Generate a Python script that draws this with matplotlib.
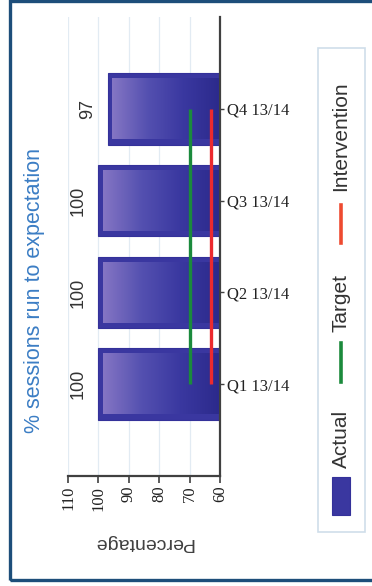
import numpy as np
import matplotlib.pyplot as plt
from matplotlib.colors import LinearSegmentedColormap
from matplotlib.patches import Rectangle
from matplotlib.lines import Line2D

quarters = ['Q1 13/14', 'Q2 13/14', 'Q3 13/14', 'Q4 13/14']
actual = [100, 100, 100, 97]
target = [70, 70, 70, 70]
intervention = [63, 63, 63, 63]
value_ticks = [60, 70, 80, 90, 100, 110]
base = 60

W, H = 372, 586
fig = plt.figure(figsize=(W / 100, H / 100), dpi=100)
fig.patch.set_facecolor('white')

# plot area (pixel coords -> figure fractions)
ax = fig.add_axes([68 / W, 1 - 476 / H, (220 - 68) / W, (476 - 17) / H])
pos = np.arange(len(quarters))

bars = ax.barh(pos, [a - base for a in actual], left=base, height=0.78,
               color='#3a37a0', edgecolor='#34319a', linewidth=0.8, zorder=2)

# gradient inside each bar: light at the tip, dark towards the axis
cmap = LinearSegmentedColormap.from_list('bar', ['#8576c4', '#5450b0', '#3a38a0', '#2c2a8c'])
grad = np.linspace(0, 1, 256).reshape(1, -1)
inset_x, inset_y = 1.6, 0.06
for b in bars:
    x0, y0, w, h = b.get_x(), b.get_y(), b.get_width(), b.get_height()
    ax.imshow(grad, cmap=cmap, aspect='auto', zorder=3, interpolation='bilinear',
              extent=(x0 + w - inset_x, x0 + 0.3, y0 + inset_y, y0 + h - inset_y))

ax.plot(target, pos, color='#1b8a3c', lw=2.4, zorder=4, solid_capstyle='butt')
ax.plot(intervention, pos, color='#ec2a2e', lw=2.4, zorder=4, solid_capstyle='butt')

for p, v in zip(pos, actual):
    ax.annotate(str(v), xy=(v, p), xytext=(-20, 0), textcoords='offset pixels',
                rotation=90, ha='center', va='center', fontsize=13,
                family='Liberation Sans', color='#333333')

ax.set_xlim(110, 60)
ax.set_ylim(-1, 4)

ax.set_xticks(value_ticks)
ax.set_xticklabels([str(t) for t in value_ticks], rotation=90,
                   family='Liberation Serif', fontsize=12, color='#222222')
ax.set_yticks(pos)
ax.set_yticklabels(quarters, family='Liberation Serif', fontsize=12, color='#222222')
ax.yaxis.tick_right()
ax.tick_params(axis='x', length=5, width=1.2, color='#404040', pad=2)
ax.tick_params(axis='y', length=3, width=1.0, color='#404040', pad=2)

ax.xaxis.grid(True, color='#e2ebf3', lw=0.9)
ax.set_axisbelow(True)
for s in ['top', 'left']:
    ax.spines[s].set_visible(False)
for s in ['right', 'bottom']:
    ax.spines[s].set_color('#404040')
    ax.spines[s].set_linewidth(1.6)

fig.text(143 / W, 1 - 542 / H, 'Percentage', rotation=180, ha='center', va='center',
         fontsize=14, family='Liberation Sans', color='#404040')
fig.text(35 / W, 1 - 291 / H, '% sessions run to expectation', rotation=90,
         ha='center', va='center', fontsize=15.5, family='Liberation Sans', color='#3b7dc4')

# legend, drawn sideways
fig.add_artist(Rectangle((318 / W, 1 - 532 / H), 47 / W, (532 - 48) / H,
                         transform=fig.transFigure, fill=False,
                         edgecolor='#cfdeea', lw=1.2))
fig.add_artist(Rectangle((332 / W, 1 - 515 / H), 18 / W, 38 / H,
                         transform=fig.transFigure, facecolor='#3a37a0',
                         edgecolor='#34319a', lw=0.8))
fig.add_artist(Line2D([341 / W, 341 / W], [1 - 382 / H, 1 - 343 / H],
                      transform=fig.transFigure, color='#1b8a3c', lw=2.6))
fig.add_artist(Line2D([341 / W, 341 / W], [1 - 243 / H, 1 - 205 / H],
                      transform=fig.transFigure, color='#ee4a30', lw=2.6))
for label, yc in [('Actual', 439), ('Target', 303), ('Intervention', 136)]:
    fig.text(341 / W, 1 - yc / H, label, rotation=90, ha='center', va='center',
             fontsize=15, family='Liberation Sans', color='#333333')

# outer frame
fig.add_artist(Rectangle((10 / W, 1 - 580 / H), 370 / W, 579 / H,
                         transform=fig.transFigure, fill=False,
                         edgecolor='#1d4e7a', lw=2.4))

fig.savefig('out.png', dpi=100)
